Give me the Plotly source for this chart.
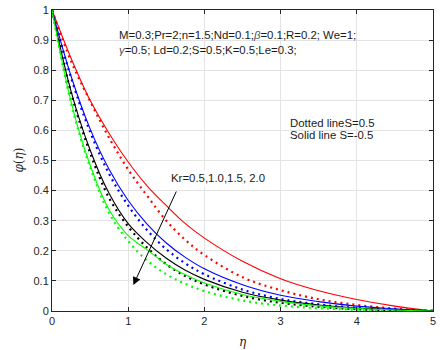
import plotly.graph_objects as go

# eta grid (independent variable)
eta = [0.0, 0.25, 0.5, 0.75, 1.0, 1.25, 1.5, 1.75, 2.0, 2.5, 3.0, 3.5, 4.0, 4.5, 5.0]

# Solid lines: S = -0.5, Kr = 0.5, 1.0, 1.5, 2.0
phi_solid_kr05 = [1.0, 0.84, 0.70, 0.59, 0.495, 0.415, 0.35, 0.29, 0.242, 0.165, 0.107, 0.067, 0.038, 0.016, 0.0]
phi_solid_kr10 = [1.0, 0.78, 0.605, 0.47, 0.367, 0.288, 0.226, 0.178, 0.14, 0.087, 0.052, 0.031, 0.016, 0.007, 0.0]
phi_solid_kr15 = [1.0, 0.73, 0.535, 0.39, 0.29, 0.226, 0.175, 0.135, 0.105, 0.062, 0.036, 0.02, 0.01, 0.004, 0.0]
phi_solid_kr20 = [1.0, 0.695, 0.485, 0.336, 0.25, 0.203, 0.155, 0.12, 0.093, 0.055, 0.032, 0.017, 0.008, 0.003, 0.0]

# Dotted lines: S = 0.5
phi_dot_kr05 = [1.0, 0.83, 0.697, 0.575, 0.47, 0.382, 0.30, 0.236, 0.186, 0.112, 0.069, 0.039, 0.02, 0.008, 0.0]
phi_dot_kr10 = [1.0, 0.775, 0.595, 0.455, 0.35, 0.268, 0.205, 0.158, 0.122, 0.071, 0.04, 0.022, 0.01, 0.004, 0.0]
phi_dot_kr15 = [1.0, 0.725, 0.525, 0.375, 0.28, 0.21, 0.155, 0.116, 0.088, 0.05, 0.027, 0.014, 0.006, 0.002, 0.0]
phi_dot_kr20 = [1.0, 0.69, 0.478, 0.325, 0.232, 0.167, 0.122, 0.09, 0.066, 0.035, 0.018, 0.009, 0.004, 0.001, 0.0]

colors = ["#ff0000", "#0000ff", "#000000", "#00ff00"]
solid = [phi_solid_kr05, phi_solid_kr10, phi_solid_kr15, phi_solid_kr20]
dotted = [phi_dot_kr05, phi_dot_kr10, phi_dot_kr15, phi_dot_kr20]

x_ticks = [0, 1, 2, 3, 4, 5]
y_ticks = [0, 0.1, 0.2, 0.3, 0.4, 0.5, 0.6, 0.7, 0.8, 0.9, 1.0]
y_tick_text = ["0", "0.1", "0.2", "0.3", "0.4", "0.5", "0.6", "0.7", "0.8", "0.9", "1"]

fig = go.Figure()
for c, ys in zip(colors, dotted):
    fig.add_trace(go.Scatter(x=eta, y=ys, mode="lines",
                             line=dict(color=c, width=2.2, dash="2px,4px", shape="spline"),
                             hoverinfo="skip", showlegend=False))
for c, ys in zip(colors, solid):
    fig.add_trace(go.Scatter(x=eta, y=ys, mode="lines",
                             line=dict(color=c, width=1.1, shape="spline"),
                             hoverinfo="skip", showlegend=False))

axis_common = dict(showgrid=True, gridcolor="#e3e3e3", gridwidth=1,
                   showline=True, linecolor="#262626", linewidth=1, mirror="ticks",
                   ticks="inside", ticklen=4, tickcolor="#262626", zeroline=False,
                   automargin=False,
                   tickfont=dict(family="Liberation Sans, Arial", size=11, color="#262626"))

fig.update_xaxes(range=[-0.0005, 5.0005], tickvals=x_ticks, ticktext=[str(t) for t in x_ticks],
                 **axis_common)
fig.update_yaxes(range=[-0.0001, 1.0001], tickvals=y_ticks, ticktext=y_tick_text,
                 **axis_common)

label_font = dict(family="DejaVu Serif", size=12, color="#262626")
fig.add_annotation(xref="paper", yref="paper", x=0.5, y=-0.102, text="<i>η</i>",
                   showarrow=False, xanchor="center", yanchor="middle", font=label_font)
fig.add_annotation(xref="paper", yref="paper", x=-0.089, y=0.5, text="<i>φ</i>(<i>η</i>)",
                   showarrow=False, xanchor="center", yanchor="middle", textangle=-90, font=label_font)

txt_font = dict(family="Liberation Sans, Arial", size=11.4, color="#1a1a1a")
annots = [
    dict(x=0.171, y=0.917, text="M=0.3;Pr=2;n=1.5;Nd=0.1;<i><span style='color:#555'>β</span></i>=0.1;R=0.2; We=1;"),
    dict(x=0.171, y=0.867, text="<i><span style='color:#555'>γ</span></i>=0.5; Ld=0.2;S=0.5;K=0.5;Le=0.3;"),
    dict(x=0.62, y=0.625, text="Dotted lineS=0.5"),
    dict(x=0.62, y=0.585, text="Solid line S=-0.5"),
]
for a in annots:
    fig.add_annotation(xref="paper", yref="paper", x=a["x"], y=a["y"], text=a["text"],
                       showarrow=False, xanchor="left", yanchor="middle", font=txt_font)

fig.add_annotation(xref="paper", yref="paper", x=0.305, y=0.442, text="Kr=0.5,1.0,1.5, 2.0",
                   showarrow=False, xanchor="left", yanchor="middle", font=txt_font,
                   bgcolor="white", borderpad=2)

# arrow from label down towards increasing Kr
fig.add_annotation(x=1.067, y=0.086, ax=1.64, ay=0.402, xref="x", yref="y", axref="x", ayref="y",
                   text="", showarrow=True, arrowhead=2, arrowsize=1.6, arrowwidth=1, arrowcolor="#000000")

fig.update_layout(width=440, height=350, margin=dict(l=52, r=7, t=10, b=39),
                  paper_bgcolor="white", plot_bgcolor="white", showlegend=False)

# remove the browser's default 8px body margin so the figure sits at the page origin
fig.write_html("out.html", config={"displayModeBar": False},
               post_script="document.body.style.margin='0px';")
